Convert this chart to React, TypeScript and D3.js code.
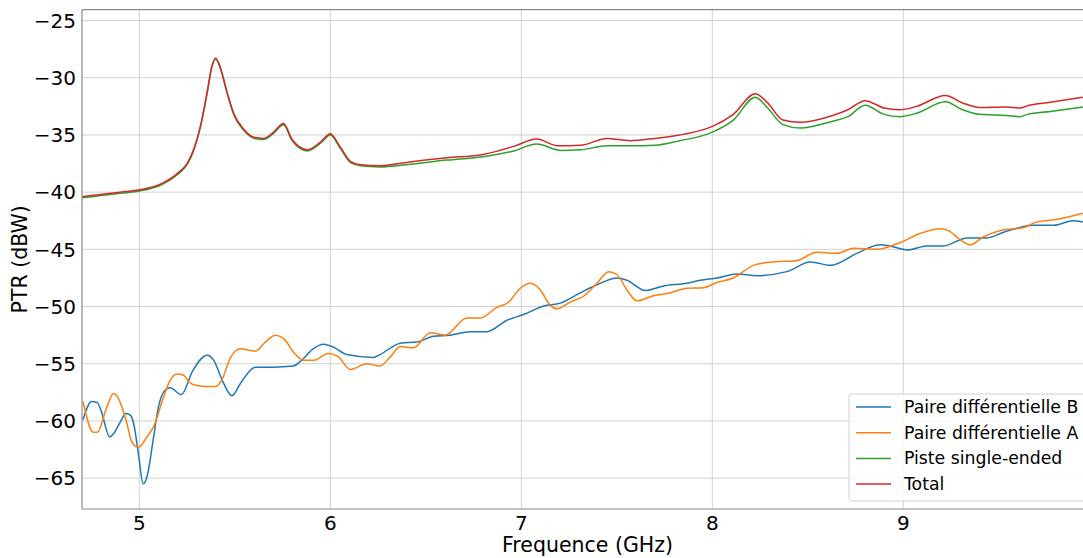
import React from "react";
import * as d3 from "d3";

// ---- data (frequency in GHz, PTR in dBW) ----
const freqTotal = [4.70, 4.80, 4.90, 5.00, 5.11, 5.197, 5.25, 5.284, 5.32, 5.355, 5.38, 5.40, 5.424, 5.46, 5.494, 5.547, 5.60, 5.65, 5.70, 5.755, 5.80, 5.88, 5.95, 6.00, 6.05, 6.105, 6.157, 6.26, 6.40, 6.61, 6.80, 6.96, 7.08, 7.19, 7.31, 7.45, 7.57, 7.70, 7.83, 7.94, 8.00, 8.11, 8.225, 8.29, 8.37, 8.46, 8.63, 8.71, 8.80, 8.90, 8.98, 9.07, 9.22, 9.31, 9.40, 9.54, 9.61, 9.65, 9.77, 9.94];
const valTotal = [-40.4, -40.2, -40.0, -39.8, -39.3, -38.4, -37.5, -36.3, -34.25, -31.3, -29.0, -28.3, -29.1, -31.3, -33.1, -34.5, -35.2, -35.3, -34.8, -34.0, -35.4, -36.3, -35.6, -34.9, -36.0, -37.3, -37.6, -37.7, -37.4, -37.0, -36.7, -36.0, -35.36, -35.95, -35.9, -35.3, -35.5, -35.3, -35.0, -34.6, -34.25, -33.2, -31.4, -32.2, -33.7, -33.9, -33.3, -32.8, -32.0, -32.65, -32.8, -32.5, -31.55, -32.2, -32.6, -32.55, -32.65, -32.45, -32.15, -31.7];

const freqSingle = [4.70, 4.80, 4.90, 5.00, 5.11, 5.197, 5.25, 5.284, 5.32, 5.355, 5.38, 5.40, 5.424, 5.46, 5.494, 5.547, 5.60, 5.65, 5.70, 5.755, 5.80, 5.88, 5.95, 6.00, 6.05, 6.105, 6.157, 6.26, 6.40, 6.61, 6.80, 6.96, 7.08, 7.21, 7.31, 7.45, 7.57, 7.70, 7.83, 7.94, 8.00, 8.11, 8.225, 8.29, 8.37, 8.46, 8.63, 8.71, 8.80, 8.90, 8.98, 9.07, 9.22, 9.31, 9.40, 9.54, 9.61, 9.65, 9.77, 9.94];
const valSingle = [-40.5, -40.3, -40.1, -39.9, -39.4, -38.5, -37.6, -36.4, -34.3, -31.35, -29.05, -28.35, -29.15, -31.35, -33.2, -34.6, -35.3, -35.4, -34.9, -34.1, -35.5, -36.4, -35.7, -35.0, -36.1, -37.4, -37.7, -37.8, -37.6, -37.2, -36.9, -36.4, -35.8, -36.36, -36.3, -35.95, -35.95, -35.9, -35.5, -35.1, -34.75, -33.7, -31.7, -32.65, -34.1, -34.4, -33.8, -33.4, -32.4, -33.2, -33.4, -33.1, -32.1, -32.8, -33.2, -33.3, -33.4, -33.2, -32.95, -32.55];

const freqB = [4.705, 4.75, 4.78, 4.80, 4.845, 4.866, 4.90, 4.93, 4.953, 4.97, 4.995, 5.02, 5.04, 5.075, 5.10, 5.136, 5.162, 5.22, 5.28, 5.355, 5.39, 5.433, 5.485, 5.53, 5.607, 5.70, 5.806, 5.843, 5.91, 5.963, 6.01, 6.087, 6.225, 6.26, 6.367, 6.454, 6.54, 6.628, 6.733, 6.82, 6.925, 7.012, 7.117, 7.204, 7.309, 7.396, 7.50, 7.553, 7.65, 7.745, 7.867, 7.937, 8.024, 8.13, 8.234, 8.39, 8.513, 8.618, 8.757, 8.88, 8.93, 9.02, 9.124, 9.21, 9.334, 9.438, 9.525, 9.682, 9.787, 9.89, 9.94];
const valB = [-59.9, -58.3, -58.4, -59.1, -61.4, -61.1, -60.1, -59.35, -59.5, -60.2, -62.8, -65.5, -64.9, -61.4, -58.8, -57.3, -57.1, -57.7, -55.6, -54.25, -54.7, -56.4, -57.8, -56.7, -55.3, -55.3, -55.2, -54.8, -53.7, -53.3, -53.5, -54.2, -54.45, -54.2, -53.2, -53.1, -52.6, -52.5, -52.2, -52.2, -51.2, -50.7, -49.95, -49.7, -48.8, -48.1, -47.5, -47.7, -48.6, -48.2, -47.97, -47.7, -47.5, -47.15, -47.3, -46.95, -46.1, -46.4, -45.35, -44.6, -44.7, -45.05, -44.7, -44.7, -44.0, -44.0, -43.5, -42.9, -42.9, -42.5, -42.6];

const freqA = [4.705, 4.76, 4.78, 4.83, 4.865, 4.89, 4.935, 4.96, 4.995, 5.04, 5.075, 5.127, 5.16, 5.197, 5.232, 5.26, 5.30, 5.355, 5.40, 5.433, 5.476, 5.53, 5.607, 5.66, 5.712, 5.756, 5.808, 5.86, 5.913, 5.99, 6.043, 6.105, 6.19, 6.26, 6.314, 6.367, 6.436, 6.523, 6.602, 6.715, 6.785, 6.87, 6.934, 6.995, 7.047, 7.10, 7.152, 7.187, 7.257, 7.326, 7.396, 7.457, 7.50, 7.553, 7.605, 7.693, 7.78, 7.867, 7.954, 8.024, 8.11, 8.216, 8.32, 8.44, 8.547, 8.652, 8.74, 8.862, 8.984, 9.09, 9.194, 9.246, 9.30, 9.35, 9.42, 9.51, 9.63, 9.70, 9.80, 9.94];
const valA = [-58.3, -61.0, -61.0, -58.8, -57.6, -58.0, -60.2, -61.8, -62.3, -61.4, -60.5, -57.9, -56.5, -55.9, -56.0, -56.6, -56.9, -57.0, -57.0, -56.4, -54.5, -53.7, -53.9, -53.1, -52.5, -52.8, -54.0, -54.7, -54.7, -54.1, -54.4, -55.5, -55.0, -55.2, -54.4, -53.5, -53.6, -52.3, -52.5, -51.0, -51.0, -50.1, -49.6, -48.4, -47.97, -48.55, -49.9, -50.2, -49.6, -49.1, -47.97, -46.95, -47.2, -48.55, -49.5, -49.05, -48.8, -48.4, -48.35, -47.9, -47.5, -46.4, -46.1, -46.0, -45.25, -45.35, -44.9, -45.0, -44.4, -43.6, -43.2, -43.45, -44.2, -44.6, -43.9, -43.35, -43.1, -42.6, -42.4, -41.85];

const xTicks = [5, 6, 7, 8, 9];
const yTicks = [-65, -60, -55, -50, -45, -40, -35, -30, -25];
const legendLabels = ["Paire différentielle B", "Paire différentielle A", "Piste single-ended", "Total"];
const colors = ["#1f77b4", "#ff7f0e", "#2ca02c", "#d62728"];

const W = 1083;
const H = 558;
const left = 82;
const right = 1083;
const top = 9.7;
const bottom = 509;

export default function App() {
  const x = d3.scaleLinear().domain([4.7, 9.94]).range([left, left + 5.24 * 191]);
  const y = d3.scaleLinear().domain([-67.7, -24.05]).range([bottom, top]);

  const series = [
    { f: freqB, v: valB, c: colors[0] },
    { f: freqA, v: valA, c: colors[1] },
    { f: freqSingle, v: valSingle, c: colors[2] },
    { f: freqTotal, v: valTotal, c: colors[3] },
  ];

  const mkPath = (f: number[], v: number[]) =>
    d3
      .line<number>()
      .x((_, i) => x(f[i]))
      .y((d) => y(d))
      .curve(d3.curveMonotoneX)(v) || "";

  const font = "DejaVu Sans, sans-serif";
  const legX = 849;
  const legY = 394;
  const rowH = 25.7;

  return (
    <svg
      width={W}
      height={H}
      style={{ position: "absolute", left: 0, top: 0, background: "#fff" }}
      fontFamily={font}
    >
      <defs>
        <clipPath id="plotclip">
          <rect x={left} y={top} width={right - left + 10} height={bottom - top} />
        </clipPath>
      </defs>
      <rect x={0} y={0} width={W} height={H} fill="#fff" />
      {/* grid */}
      <g stroke="#d2d2d2" strokeWidth={1}>
        {xTicks.map((t) => (
          <line key={"gx" + t} x1={x(t)} x2={x(t)} y1={top} y2={bottom} />
        ))}
        {yTicks.map((t) => (
          <line key={"gy" + t} x1={left} x2={right + 10} y1={y(t)} y2={y(t)} />
        ))}
      </g>
      {/* lines */}
      <g clipPath="url(#plotclip)" fill="none">
        {series.map((s, i) => (
          <path key={i} d={mkPath(s.f, s.v)} stroke={s.c} strokeWidth={1.5} strokeLinejoin="round" />
        ))}
      </g>
      {/* spines */}
      <g stroke="#8a8a8a" strokeWidth={1.2}>
        <line x1={left} x2={left} y1={top} y2={bottom} />
        <line x1={left} x2={right + 10} y1={bottom} y2={bottom} />
        <line x1={left} x2={right + 10} y1={top} y2={top} />
      </g>
      {/* tick labels */}
      <g fontSize={20} fill="#000">
        {xTicks.map((t) => (
          <text key={"tx" + t} x={x(t)} y={530} textAnchor="middle">
            {String(t)}
          </text>
        ))}
        {yTicks.map((t) => (
          <text key={"ty" + t} x={76} y={y(t)} dy="0.36em" textAnchor="end">
            {"\u2212" + Math.abs(t)}
          </text>
        ))}
      </g>
      {/* axis labels */}
      <text x={(left + right) / 2 + 5} y={552} textAnchor="middle" fontSize={20.5}>
        Frequence (GHz)
      </text>
      <text
        transform={`translate(27, ${(top + bottom) / 2}) rotate(-90)`}
        textAnchor="middle"
        fontSize={20.5}
      >
        PTR (dBW)
      </text>
      {/* legend */}
      <g>
        <rect
          x={legX}
          y={legY}
          width={260}
          height={107}
          rx={3}
          fill="#fff"
          fillOpacity={0.8}
          stroke="#d0d0d0"
          strokeWidth={1}
        />
        {legendLabels.map((lab, i) => (
          <g key={lab}>
            <line
              x1={856}
              x2={891}
              y1={legY + 13 + i * rowH}
              y2={legY + 13 + i * rowH}
              stroke={colors[i]}
              strokeWidth={1.5}
            />
            <text x={904} y={legY + 13 + i * rowH} dy="0.35em" fontSize={17.3} fill="#000">
              {lab}
            </text>
          </g>
        ))}
      </g>
    </svg>
  );
}
